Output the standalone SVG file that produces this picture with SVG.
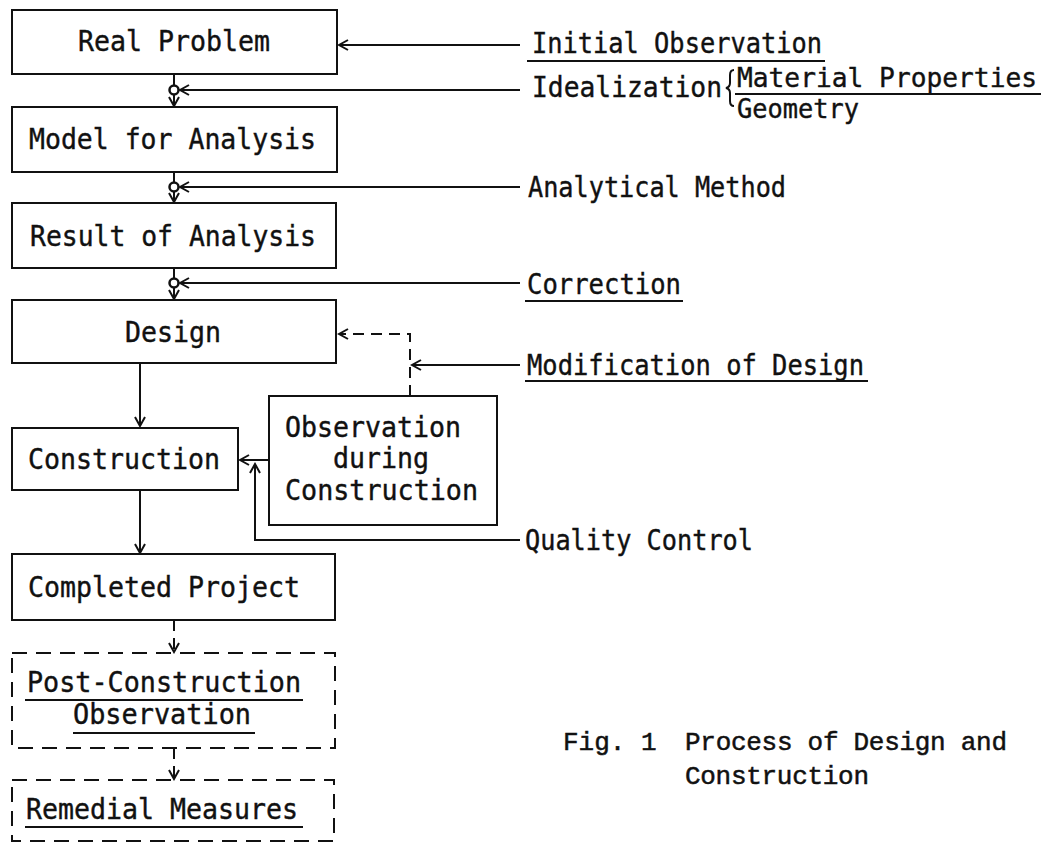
<svg xmlns="http://www.w3.org/2000/svg" width="1046" height="843" viewBox="0 0 1046 843">
<style>
  .box { fill: #fff; stroke: #111; stroke-width: 2; }
  .dbox { fill: none; stroke: #111; stroke-width: 2; stroke-dasharray: 15 9; }
  .t { font-family: "DejaVu Sans Mono", "Liberation Mono", monospace; font-size: 28px; fill: #111; stroke: #111; stroke-width: 0.4; }
  .sm { font-size: 27px; }
  .cap { font-family: "Liberation Mono", "DejaVu Sans Mono", monospace; font-size: 26px; fill: #111; stroke: #111; stroke-width: 0.5; }
  .ln { fill: none; stroke: #111; stroke-width: 2; }
  .dash { fill: none; stroke: #111; stroke-width: 2; stroke-dasharray: 11 7; }
  .ul { stroke: #111; stroke-width: 2; }
  .jn { fill: #fff; stroke: #111; stroke-width: 2.5; }
</style>
<defs>
  <marker id="arr" markerUnits="userSpaceOnUse" markerWidth="14" markerHeight="14" viewBox="-11 -7 12 14" refX="0" refY="0" orient="auto">
    <path d="M-9,-5 L0,0 L-9,5" fill="none" stroke="#111" stroke-width="2" stroke-dasharray="none"/>
  </marker>
</defs>
<rect width="1046" height="843" fill="#fff"/>

<g id="connectors">
  <path class="ln" d="M520,45 H339" marker-end="url(#arr)"/>
  <path class="ln" d="M520,90 H180" marker-end="url(#arr)"/>
  <path class="ln" d="M520,187 H180" marker-end="url(#arr)"/>
  <path class="ln" d="M520,283 H180" marker-end="url(#arr)"/>
  <path class="ln" d="M174,74 V86"/>
  <path class="ln" d="M174,94 V106" marker-end="url(#arr)"/>
  <path class="ln" d="M174,172 V183"/>
  <path class="ln" d="M174,191 V202" marker-end="url(#arr)"/>
  <path class="ln" d="M174,268 V279"/>
  <path class="ln" d="M174,287 V299" marker-end="url(#arr)"/>
  <circle class="jn" cx="174" cy="90" r="4.5"/>
  <circle class="jn" cx="174" cy="187" r="4.5"/>
  <circle class="jn" cx="174" cy="283" r="4.5"/>
  <path class="dash" d="M410,396 V334 H339" marker-end="url(#arr)"/>
  <path class="ln" d="M520,365 H412" marker-end="url(#arr)"/>
  <path class="ln" d="M140,363 V426" marker-end="url(#arr)"/>
  <path class="ln" d="M269,460 H240" marker-end="url(#arr)"/>
  <path class="ln" d="M520,540 H255 V464" marker-end="url(#arr)"/>
  <path class="ln" d="M140,490 V553" marker-end="url(#arr)"/>
  <path class="dash" d="M174,620 V652" marker-end="url(#arr)"/>
  <path class="dash" d="M174,748 V779" marker-end="url(#arr)"/>
</g>

<g id="real-problem">
  <rect class="box" x="12" y="10" width="325" height="64"/>
  <text class="t" x="78" y="51" textLength="192" lengthAdjust="spacingAndGlyphs">Real Problem</text>
</g>
<g id="model-for-analysis">
  <rect class="box" x="12" y="107" width="325" height="65"/>
  <text class="t" x="29" y="149" textLength="287" lengthAdjust="spacingAndGlyphs">Model for Analysis</text>
</g>
<g id="result-of-analysis">
  <rect class="box" x="12" y="203" width="324" height="65"/>
  <text class="t" x="30" y="246" textLength="286" lengthAdjust="spacingAndGlyphs">Result of Analysis</text>
</g>
<g id="design">
  <rect class="box" x="12" y="300" width="324" height="63"/>
  <text class="t" x="125" y="342" textLength="96" lengthAdjust="spacingAndGlyphs">Design</text>
</g>
<g id="construction">
  <rect class="box" x="12" y="428" width="226" height="62"/>
  <text class="t" x="28" y="469" textLength="192" lengthAdjust="spacingAndGlyphs">Construction</text>
</g>
<g id="observation-during-construction">
  <rect class="box" x="269" y="396" width="228" height="129"/>
  <text class="t" x="285" y="437" textLength="176" lengthAdjust="spacingAndGlyphs">Observation</text>
  <text class="t" x="333" y="468" textLength="96" lengthAdjust="spacingAndGlyphs">during</text>
  <text class="t" x="285" y="500" textLength="193" lengthAdjust="spacingAndGlyphs">Construction</text>
</g>
<g id="completed-project">
  <rect class="box" x="12" y="554" width="323" height="66"/>
  <text class="t" x="28" y="597" textLength="272" lengthAdjust="spacingAndGlyphs">Completed Project</text>
</g>
<g id="post-construction-observation">
  <rect class="dbox" x="12" y="653" width="323" height="95"/>
  <text class="t" x="27" y="692" textLength="274" lengthAdjust="spacingAndGlyphs">Post-Construction</text>
  <line class="ul" x1="25" y1="700" x2="303" y2="700"/>
  <text class="t" x="73" y="724" textLength="178" lengthAdjust="spacingAndGlyphs">Observation</text>
  <line class="ul" x1="73" y1="733" x2="255" y2="733"/>
</g>
<g id="remedial-measures">
  <rect class="dbox" x="12" y="780" width="322" height="61"/>
  <text class="t" x="26" y="819" textLength="272" lengthAdjust="spacingAndGlyphs">Remedial Measures</text>
  <line class="ul" x1="25" y1="827" x2="303" y2="827"/>
</g>

<g id="initial-observation">
  <text class="t" x="532" y="53" textLength="290" lengthAdjust="spacingAndGlyphs">Initial Observation</text>
  <line class="ul" x1="527" y1="61" x2="825" y2="61"/>
</g>
<g id="idealization">
  <text class="t" x="532" y="97" textLength="190" lengthAdjust="spacingAndGlyphs">Idealization</text>
  <path class="ln" d="M734,70 Q730,70 730,75 V83 Q730,87 726,88 Q730,89 730,93 V101 Q730,106 734,106" stroke-width="1.8"/>
  <text class="t sm" x="737" y="87" textLength="300" lengthAdjust="spacingAndGlyphs">Material Properties</text>
  <line class="ul" x1="735" y1="94" x2="1041" y2="94"/>
  <text class="t sm" x="737" y="118" textLength="122" lengthAdjust="spacingAndGlyphs">Geometry</text>
</g>
<g id="analytical-method">
  <text class="t" x="528" y="197" textLength="258" lengthAdjust="spacingAndGlyphs">Analytical Method</text>
</g>
<g id="correction">
  <text class="t" x="527" y="294" textLength="154" lengthAdjust="spacingAndGlyphs">Correction</text>
  <line class="ul" x1="525" y1="301" x2="683" y2="301"/>
</g>
<g id="modification-of-design">
  <text class="t" x="527" y="375" textLength="337" lengthAdjust="spacingAndGlyphs">Modification of Design</text>
  <line class="ul" x1="525" y1="381" x2="868" y2="381"/>
</g>
<g id="quality-control">
  <text class="t" x="525" y="550" textLength="228" lengthAdjust="spacingAndGlyphs">Quality Control</text>
</g>

<g id="caption">
  <text class="cap" x="563" y="750">Fig. 1</text>
  <text class="cap" x="685" y="750" textLength="322">Process of Design and</text>
  <text class="cap" x="685" y="784" textLength="184">Construction</text>
</g>
</svg>
